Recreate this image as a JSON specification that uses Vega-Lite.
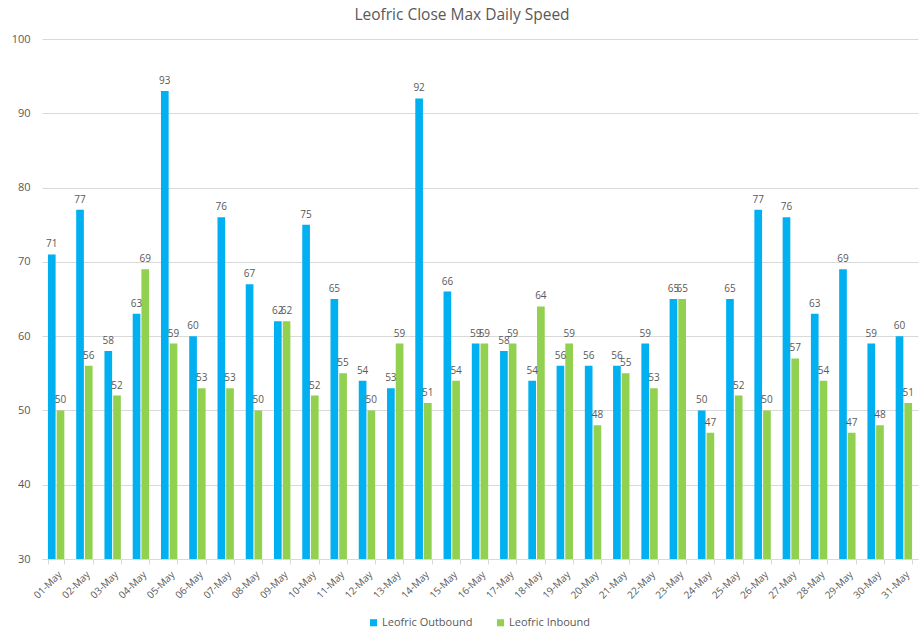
{
  "$schema": "https://vega.github.io/schema/vega-lite/v6.json",
  "width": 876,
  "height": 520,
  "autosize": {"type": "none"},
  "padding": {"left": 42, "top": 39, "right": 6, "bottom": 73},
  "background": "white",
  "config": {
    "font": "Open Sans",
    "view": {"stroke": null},
    "text": {"font": "Open Sans"}
  },
  "title": {
    "text": "Leofric Close Max Daily Speed",
    "fontSize": 15.5,
    "fontWeight": "normal",
    "color": "#595959",
    "offset": 10,
    "dx": -18,
    "anchor": "middle"
  },
  "data": {
    "values": [
      {"date": "01-May", "series": "Leofric Outbound", "speed": 71}, {"date": "01-May", "series": "Leofric Inbound", "speed": 50},
      {"date": "02-May", "series": "Leofric Outbound", "speed": 77}, {"date": "02-May", "series": "Leofric Inbound", "speed": 56},
      {"date": "03-May", "series": "Leofric Outbound", "speed": 58}, {"date": "03-May", "series": "Leofric Inbound", "speed": 52},
      {"date": "04-May", "series": "Leofric Outbound", "speed": 63}, {"date": "04-May", "series": "Leofric Inbound", "speed": 69},
      {"date": "05-May", "series": "Leofric Outbound", "speed": 93}, {"date": "05-May", "series": "Leofric Inbound", "speed": 59},
      {"date": "06-May", "series": "Leofric Outbound", "speed": 60}, {"date": "06-May", "series": "Leofric Inbound", "speed": 53},
      {"date": "07-May", "series": "Leofric Outbound", "speed": 76}, {"date": "07-May", "series": "Leofric Inbound", "speed": 53},
      {"date": "08-May", "series": "Leofric Outbound", "speed": 67}, {"date": "08-May", "series": "Leofric Inbound", "speed": 50},
      {"date": "09-May", "series": "Leofric Outbound", "speed": 62}, {"date": "09-May", "series": "Leofric Inbound", "speed": 62},
      {"date": "10-May", "series": "Leofric Outbound", "speed": 75}, {"date": "10-May", "series": "Leofric Inbound", "speed": 52},
      {"date": "11-May", "series": "Leofric Outbound", "speed": 65}, {"date": "11-May", "series": "Leofric Inbound", "speed": 55},
      {"date": "12-May", "series": "Leofric Outbound", "speed": 54}, {"date": "12-May", "series": "Leofric Inbound", "speed": 50},
      {"date": "13-May", "series": "Leofric Outbound", "speed": 53}, {"date": "13-May", "series": "Leofric Inbound", "speed": 59},
      {"date": "14-May", "series": "Leofric Outbound", "speed": 92}, {"date": "14-May", "series": "Leofric Inbound", "speed": 51},
      {"date": "15-May", "series": "Leofric Outbound", "speed": 66}, {"date": "15-May", "series": "Leofric Inbound", "speed": 54},
      {"date": "16-May", "series": "Leofric Outbound", "speed": 59}, {"date": "16-May", "series": "Leofric Inbound", "speed": 59},
      {"date": "17-May", "series": "Leofric Outbound", "speed": 58}, {"date": "17-May", "series": "Leofric Inbound", "speed": 59},
      {"date": "18-May", "series": "Leofric Outbound", "speed": 54}, {"date": "18-May", "series": "Leofric Inbound", "speed": 64},
      {"date": "19-May", "series": "Leofric Outbound", "speed": 56}, {"date": "19-May", "series": "Leofric Inbound", "speed": 59},
      {"date": "20-May", "series": "Leofric Outbound", "speed": 56}, {"date": "20-May", "series": "Leofric Inbound", "speed": 48},
      {"date": "21-May", "series": "Leofric Outbound", "speed": 56}, {"date": "21-May", "series": "Leofric Inbound", "speed": 55},
      {"date": "22-May", "series": "Leofric Outbound", "speed": 59}, {"date": "22-May", "series": "Leofric Inbound", "speed": 53},
      {"date": "23-May", "series": "Leofric Outbound", "speed": 65}, {"date": "23-May", "series": "Leofric Inbound", "speed": 65},
      {"date": "24-May", "series": "Leofric Outbound", "speed": 50}, {"date": "24-May", "series": "Leofric Inbound", "speed": 47},
      {"date": "25-May", "series": "Leofric Outbound", "speed": 65}, {"date": "25-May", "series": "Leofric Inbound", "speed": 52},
      {"date": "26-May", "series": "Leofric Outbound", "speed": 77}, {"date": "26-May", "series": "Leofric Inbound", "speed": 50},
      {"date": "27-May", "series": "Leofric Outbound", "speed": 76}, {"date": "27-May", "series": "Leofric Inbound", "speed": 57},
      {"date": "28-May", "series": "Leofric Outbound", "speed": 63}, {"date": "28-May", "series": "Leofric Inbound", "speed": 54},
      {"date": "29-May", "series": "Leofric Outbound", "speed": 69}, {"date": "29-May", "series": "Leofric Inbound", "speed": 47},
      {"date": "30-May", "series": "Leofric Outbound", "speed": 59}, {"date": "30-May", "series": "Leofric Inbound", "speed": 48},
      {"date": "31-May", "series": "Leofric Outbound", "speed": 60}, {"date": "31-May", "series": "Leofric Inbound", "speed": 51}
    ]
  },
  "encoding": {
    "x": {
      "field": "date",
      "type": "nominal",
      "sort": null,
      "scale": {"paddingInner": 0.42, "paddingOuter": 0.21},
      "axis": {
        "title": null,
        "labelAngle": -45,
        "labelFontSize": 10,
        "labelColor": "#595959",
        "labelPadding": 5,
        "domainColor": "#d9d9d9",
        "tickColor": "#d9d9d9",
        "tickBand": "extent",
        "tickSize": 5,
        "grid": false
      }
    },
    "xOffset": {
      "field": "series",
      "type": "nominal",
      "sort": ["Leofric Outbound", "Leofric Inbound"],
      "scale": {"paddingInner": 0.12}
    },
    "y": {
      "field": "speed",
      "type": "quantitative",
      "scale": {"domain": [30, 100], "zero": false, "nice": false},
      "axis": {
        "title": null,
        "values": [30, 40, 50, 60, 70, 80, 90, 100],
        "labelFontSize": 11,
        "labelColor": "#595959",
        "labelPadding": 12,
        "domain": false,
        "ticks": false,
        "gridColor": "#d9d9d9",
        "gridWidth": 1
      }
    }
  },
  "layer": [
    {
      "mark": {"type": "bar", "clip": true},
      "encoding": {
        "color": {
          "field": "series",
          "type": "nominal",
          "scale": {"domain": ["Leofric Outbound", "Leofric Inbound"], "range": ["#00B0F0", "#92D050"]},
          "legend": {
            "title": null,
            "orient": "none",
            "direction": "horizontal",
            "legendX": 326,
            "legendY": 578,
            "symbolType": "square",
            "symbolSize": 50,
            "symbolStrokeWidth": 0,
            "labelFontSize": 11,
            "labelColor": "#595959",
            "columnPadding": 22,
            "labelOffset": 3
          }
        }
      }
    },
    {
      "mark": {"type": "text", "dy": -10, "fontSize": 10, "color": "#595959"},
      "encoding": {
        "text": {"field": "speed", "type": "quantitative"}
      }
    }
  ]
}
